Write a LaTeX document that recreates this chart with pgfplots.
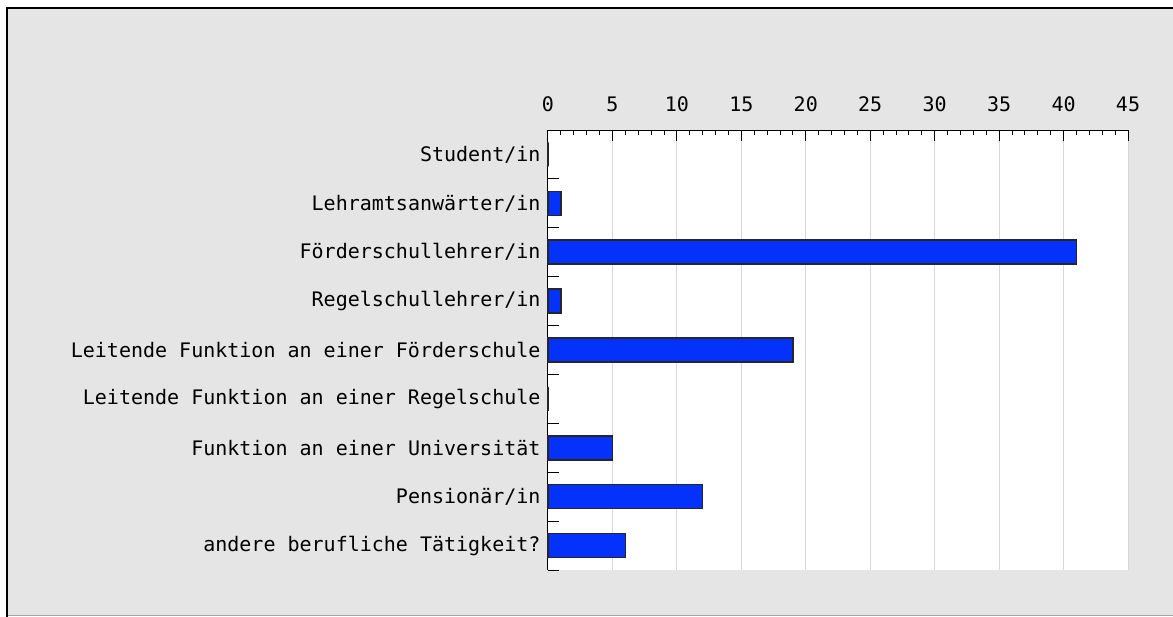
\documentclass[border=0pt]{standalone}
\usepackage{fontspec}
\usepackage{pgfplots}
\pgfplotsset{compat=1.18}
\newfontfamily\lbl{DejaVu Sans Mono}
\definecolor{bg}{RGB}{229,229,229}
\definecolor{barblue}{RGB}{5,50,250}
\definecolor{gridgray}{RGB}{215,215,215}

\begin{document}
\begin{tikzpicture}[x=1bp,y=1bp]
\useasboundingbox (0,0) rectangle (1173,617);
\fill[white] (0,0) rectangle (1173,617);
\fill[bg] (7,1) rectangle (1173,609);
\draw[gray!70, line width=1.5bp] (7,1.5) -- (1173,1.5);
\draw[black, line width=2bp] (7,0) -- (7,609) -- (1173,609);
\coordinate (origin) at (548,47);
\begin{axis}[
    at={(origin)}, anchor=south west,
    scale only axis,
    width=580bp, height=440bp,
    xbar, bar width=24bp,
    xmin=0, xmax=45,
    xtick={0,5,...,45},
    minor x tick num=4,
    axis x line=top, axis y line=left,
    axis line style={-, black, line width=1bp},
    xticklabel pos=top,
    xticklabel style={anchor=south, yshift=15bp},
    xmajorgrids,
    major grid style={gridgray, line width=1bp},
    ymin=-0.5, ymax=8.5, y dir=reverse,
    ytick={-0.5,0.5,...,8.5},
    yticklabels={},
    extra y ticks={0,1,...,8},
    extra y tick labels={Student/in, Lehramtsanwärter/in, Förderschullehrer/in, Regelschullehrer/in, Leitende Funktion an einer Förderschule, Leitende Funktion an einer Regelschule, Funktion an einer Universität, Pensionär/in, andere berufliche Tätigkeit?},
    extra y tick style={major tick length=0pt, yticklabel style={anchor=east, xshift=-4bp}},
    major tick length=11bp, minor tick length=5bp,
    tick style={black, line width=1bp},
    tick align=inside,
    tick label style={font=\lbl\fontsize{20bp}{24bp}\selectfont, black},
    /pgf/number format/assume math mode=true,
    axis background/.style={fill=white},
    clip=false,
]
\addplot[fill=barblue, draw=black!85, line width=1.6bp] coordinates {
    (0,0)
    (1,1)
    (41,2)
    (1,3)
    (19,4)
    (0,5)
    (5,6)
    (12,7)
    (6,8)
};
\end{axis}
\end{tikzpicture}
\end{document}
